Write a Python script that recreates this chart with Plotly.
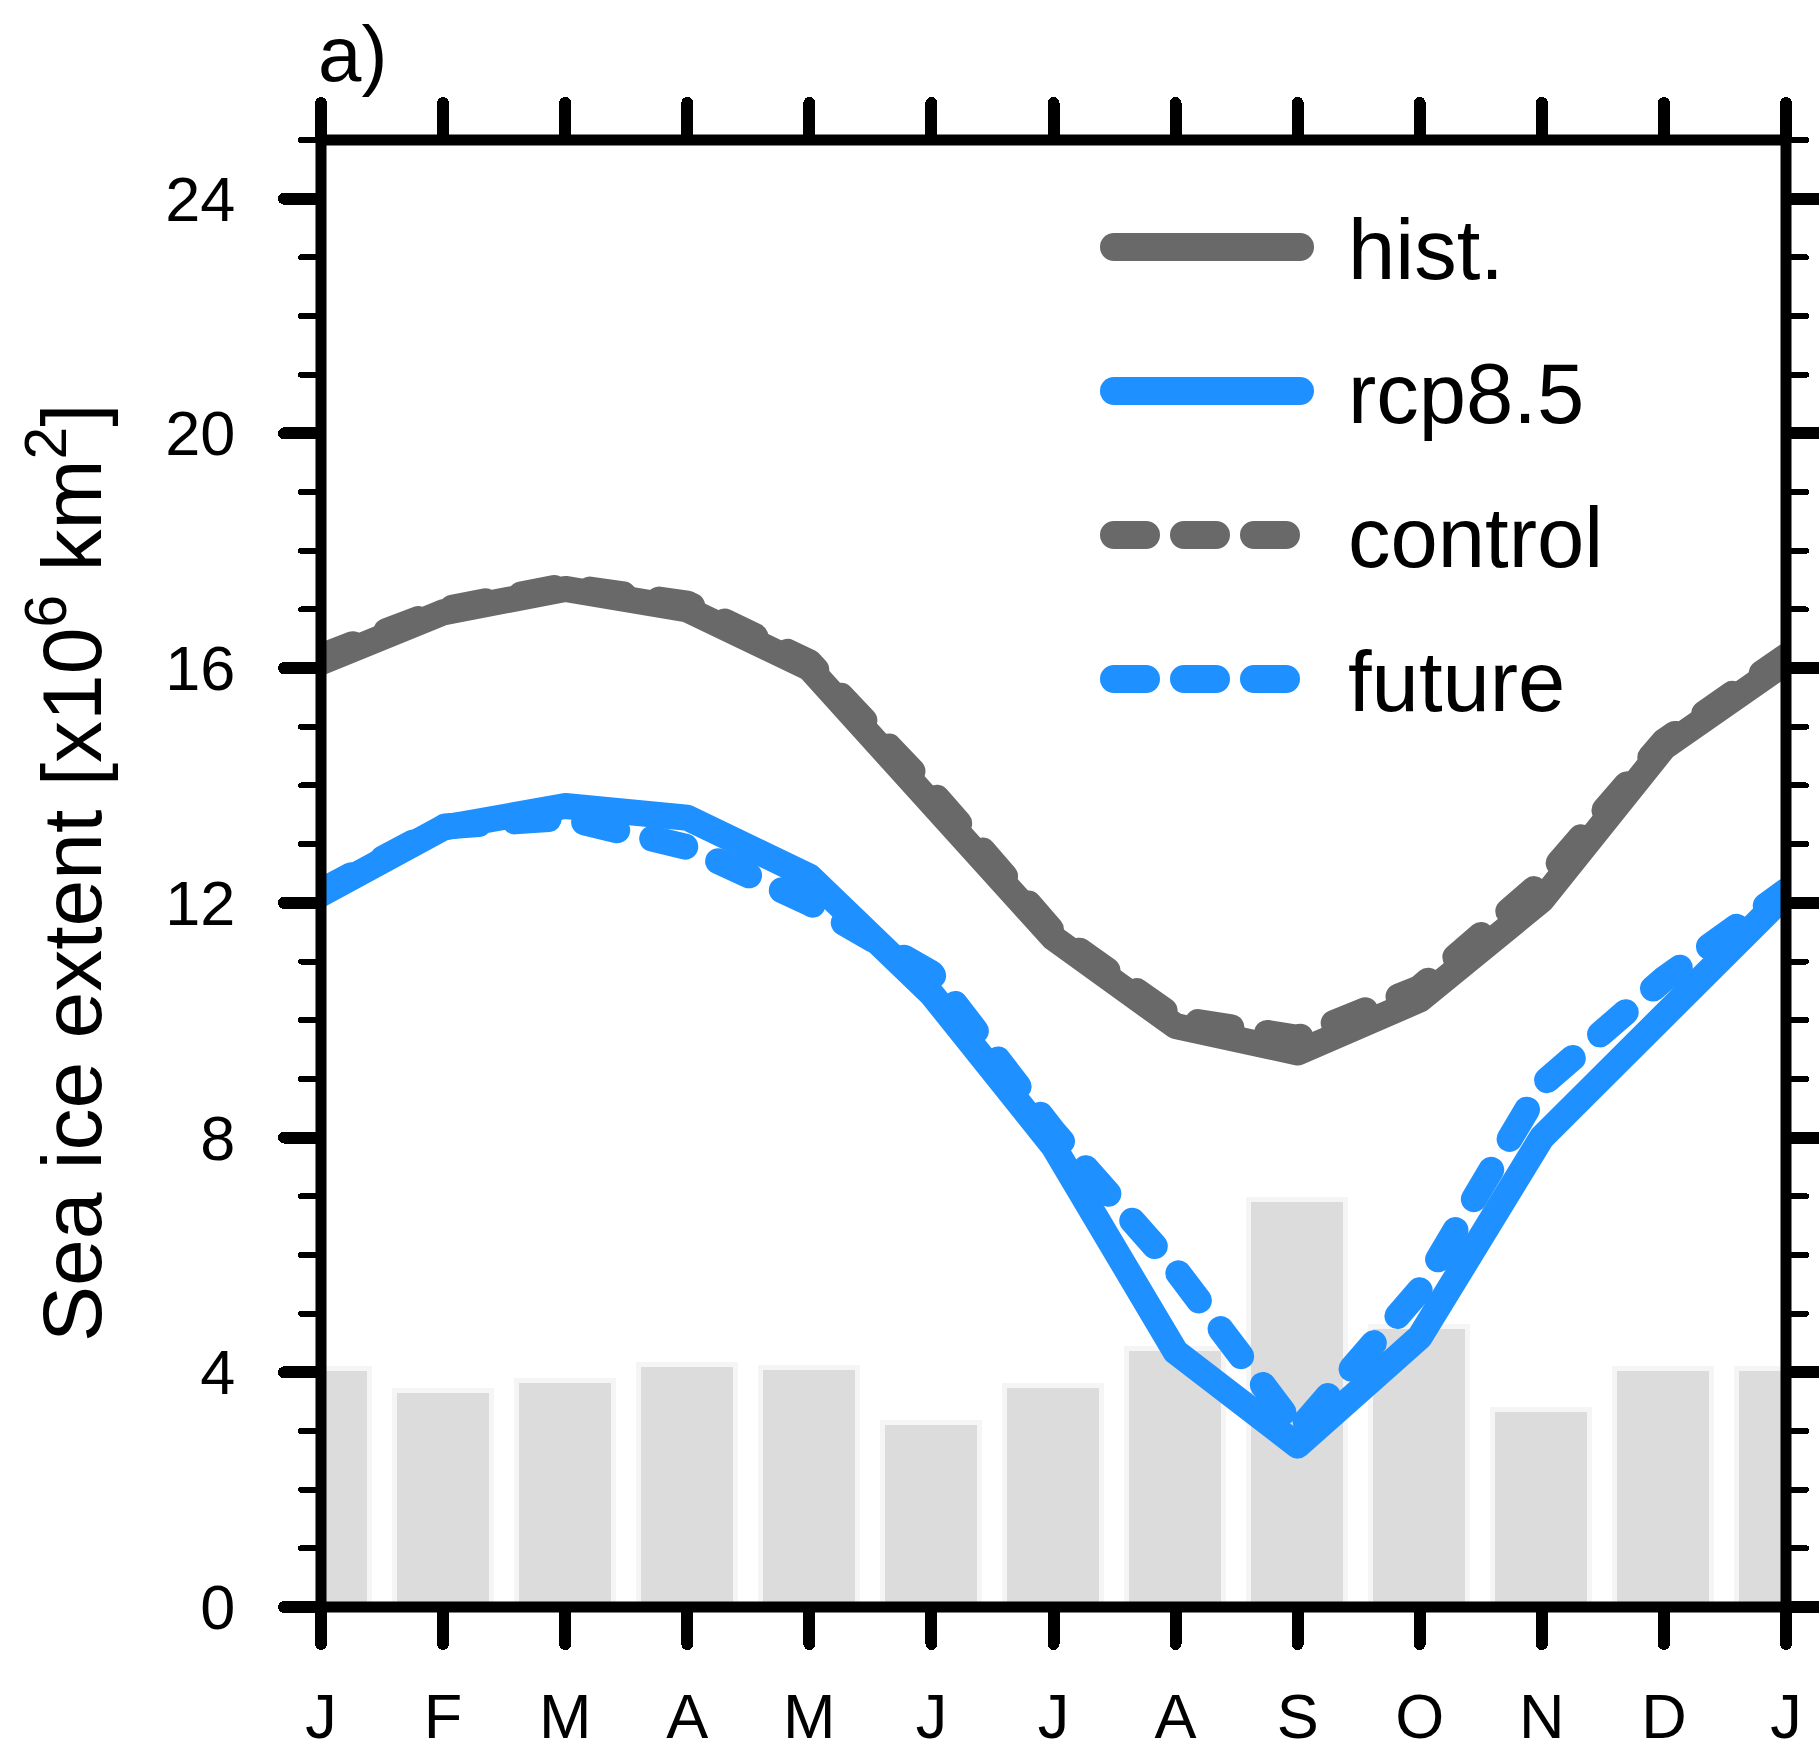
import plotly.graph_objects as go

# ---------------- data ----------------
months = ["J", "F", "M", "A", "M", "J", "J", "A", "S", "O", "N", "D", "J"]
month_pos = list(range(13))

hist = [16.1, 16.95, 17.35, 17.0, 16.0, 13.75, 11.4, 9.9, 9.45, 10.35, 12.05, 14.65, 16.1]
rcp85 = [12.15, 13.28, 13.65, 13.45, 12.45, 10.45, 7.85, 4.35, 2.75, 4.6, 8.0, 10.15, 12.15]
control = [16.2, 17.0, 17.4, 17.1, 16.1, 13.9, 11.5, 10.03, 9.7, 10.55, 12.35, 14.75, 16.2]
future = [12.2, 13.3, 13.45, 12.95, 12.0, 10.8, 8.1, 5.75, 3.0, 5.4, 8.9, 10.7, 12.2]
bars = [4.05, 3.68, 3.86, 4.12, 4.08, 3.14, 3.77, 4.4, 6.94, 4.77, 3.36, 4.05, 4.05]

y_ticks = [0, 4, 8, 12, 16, 20, 24]

GREY = "#696969"
BLUE = "#1E90FF"
FONT = "Liberation Sans, Arial, Helvetica, sans-serif"

series = [
    ("hist.", hist, GREY, "solid"),
    ("rcp8.5", rcp85, BLUE, "solid"),
    ("control", control, GREY, "34px,36px"),
    ("future", future, BLUE, "34px,36px"),
]

fig = go.Figure()

fig.add_trace(go.Bar(
    x=month_pos, y=bars, width=0.795,
    marker=dict(color="#dcdcdc", line=dict(color="#f5f5f5", width=5)),
    showlegend=False, hoverinfo="skip",
))

for name, vals, col, dash in series:
    fig.add_trace(go.Scatter(
        x=month_pos, y=vals, mode="lines", name=name,
        line=dict(color=col, width=26, dash=dash),
        showlegend=False,
    ))

# ---------------- manual legend ----------------
W, H = 1819, 1750
L, R, T, B = 321, 33, 140, 143
pw, ph = W - L - R, H - T - B


def px_x(p):
    return (p - L) / pw


def px_y(p):
    return (H - B - p) / ph


legend_rows_y = [247, 391, 535, 679]
shapes = []
annotations = []
for (name, vals, col, dash), ry in zip(series, legend_rows_y):
    if dash == "solid":
        x0, x1, d = 1114, 1300, "solid"
    else:
        x0, x1, d = 1114, 1286, "32px,38px"
    shapes.append(dict(type="line", xref="paper", yref="paper",
                       x0=px_x(x0), x1=px_x(x1), y0=px_y(ry), y1=px_y(ry),
                       line=dict(color=col, width=28, dash=d), layer="above"))
    annotations.append(dict(xref="paper", yref="paper", x=px_x(1346), y=px_y(ry + 2),
                            xanchor="left", yanchor="middle", showarrow=False,
                            text=name, font=dict(family=FONT, size=85, color="black")))

# frame
shapes.append(dict(type="rect", xref="paper", yref="paper", x0=0, x1=1, y0=0, y1=1,
                   line=dict(color="black", width=11), layer="above"))

# y axis title
annotations.append(dict(xref="paper", yref="paper", x=px_x(66), y=px_y(873),
                        xanchor="center", yanchor="middle", showarrow=False, textangle=-90,
                        text="Sea ice extent [x10<sup>6</sup> km<sup>2</sup>]",
                        font=dict(family=FONT, size=84, color="black")))
# panel label
annotations.append(dict(xref="paper", yref="paper", x=px_x(316), y=px_y(100),
                        xanchor="left", yanchor="bottom", showarrow=False,
                        text="a)", font=dict(family=FONT, size=78, color="black")))

fig.update_layout(
    width=W, height=H,
    margin=dict(l=L, r=R, t=T, b=B, pad=0, autoexpand=False),
    paper_bgcolor="white", plot_bgcolor="white",
    showlegend=False,
    shapes=shapes, annotations=annotations,
    bargap=0,
)

fig.update_xaxes(
    range=[0, 12], tickmode="array", tickvals=month_pos, ticktext=months,
    ticks="outside", ticklen=36, tickwidth=12, tickcolor="black",
    mirror="ticks", showline=False, showgrid=False, zeroline=False,
    tickfont=dict(family=FONT, size=63, color="black"),
    ticklabelstandoff=18, automargin=False,
)
fig.update_yaxes(
    range=[0, 25], tickmode="array", tickvals=y_ticks,
    ticks="outside", ticklen=36, tickwidth=12, tickcolor="black",
    minor=dict(dtick=1, tick0=0, ticks="outside", ticklen=19, tickwidth=6, tickcolor="black", showgrid=False),
    mirror="ticks", showline=False, showgrid=False, zeroline=False,
    tickfont=dict(family=FONT, size=63, color="black"),
    ticklabelstandoff=36, automargin=False,
)

post = """
var gd = document.getElementById('{plot_id}');
function fixCaps(){
  gd.querySelectorAll('.scatterlayer path.js-line').forEach(function(p){
    p.style.strokeLinejoin='round'; p.style.strokeLinecap='round';
  });
  gd.querySelectorAll('.shapelayer path').forEach(function(p){
    if (p.getAttribute('d') && p.getAttribute('d').indexOf('Z') < 0) { p.style.strokeLinecap='round'; }
  });
  gd.querySelectorAll('path.ticks').forEach(function(p){ p.style.strokeLinecap='round'; });
}
fixCaps(); setTimeout(fixCaps, 50); setTimeout(fixCaps, 300);
"""

fig.write_html("out.html", post_script=post)
